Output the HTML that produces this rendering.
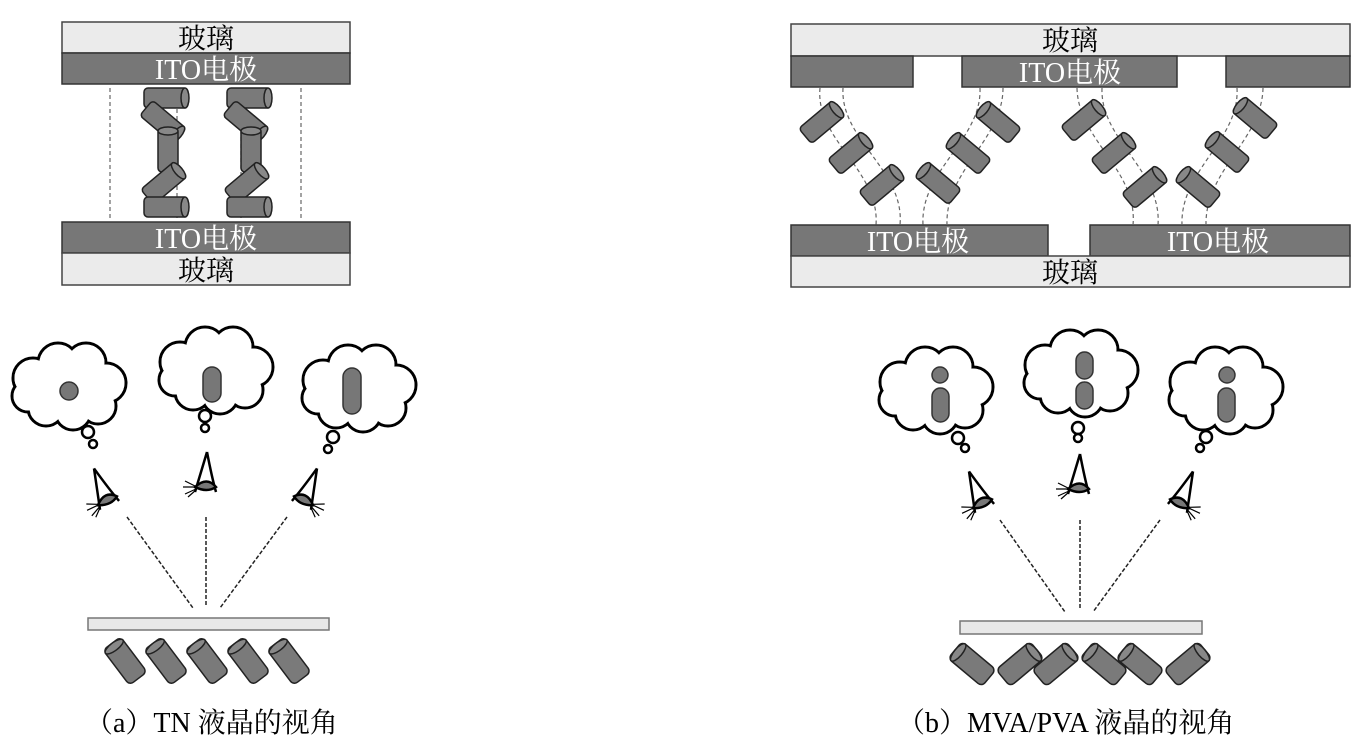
<!DOCTYPE html>
<html><head><meta charset="utf-8"><style>
body{margin:0;background:#fff;width:1359px;height:755px;overflow:hidden}
svg{display:block}
text{font-family:"Liberation Serif","Noto Serif CJK SC",serif}
</style></head><body>
<svg width="1359" height="755" viewBox="0 0 1359 755">
<defs>
<g id="cyl"><rect x="-22" y="-10" width="44" height="20" rx="4" fill="#7a7a7a" stroke="#222" stroke-width="1.5"/><ellipse cx="19" cy="0" rx="4" ry="10" fill="#888" stroke="#222" stroke-width="1.5"/></g>
<g id="cylb"><rect x="-22" y="-11" width="44" height="22" rx="5" fill="#7a7a7a" stroke="#222" stroke-width="1.5"/><ellipse cx="18" cy="0" rx="4" ry="11" fill="#888" stroke="#222" stroke-width="1.5"/></g>
<g id="cloud">
 <g fill="#fff" stroke="#000" stroke-width="3">
  <circle cx="-35" cy="-10" r="20"/><circle cx="-10" cy="-25" r="20"/><circle cx="18" cy="-25" r="20"/><circle cx="38" cy="-5" r="20"/><circle cx="30" cy="18" r="18"/><circle cx="5" cy="24" r="18"/><circle cx="-22" cy="20" r="18"/><circle cx="-40" cy="8" r="16"/>
 </g>
 <g fill="#fff">
  <circle cx="-35" cy="-10" r="18.5"/><circle cx="-10" cy="-25" r="18.5"/><circle cx="18" cy="-25" r="18.5"/><circle cx="38" cy="-5" r="18.5"/><circle cx="30" cy="18" r="16.5"/><circle cx="5" cy="24" r="16.5"/><circle cx="-22" cy="20" r="16.5"/><circle cx="-40" cy="8" r="14.5"/><ellipse cx="0" cy="0" rx="40" ry="28"/>
 </g>
</g>
<g id="eye" fill="none" stroke="#000" stroke-width="2.5">
 <path d="M0,-26 L-12,14 M0,-26 Q5,0 9,14"/>
 <path d="M-12,9 Q0,-2 9,9 Q0,15 -12,9Z" fill="#777"/>
 <path d="M-12,8 L-22,3 M-12,9 L-24,9 M-11,11 L-22,16 M-11,12 L-19,19" stroke-width="1.2"/>
</g>
</defs>

<!-- LEFT TOP -->
<rect x="62" y="22" width="288" height="31" fill="#ebebeb" stroke="#444" stroke-width="1.5"/>
<rect x="62" y="53" width="288" height="31" fill="#777" stroke="#333" stroke-width="1.5"/>
<rect x="62" y="222" width="288" height="31" fill="#777" stroke="#333" stroke-width="1.5"/>
<rect x="62" y="253" width="288" height="32" fill="#ebebeb" stroke="#444" stroke-width="1.5"/>
<text x="206" y="48" font-size="28" text-anchor="middle">玻璃</text>
<text x="206" y="79" font-size="28" text-anchor="middle" fill="#fff">ITO电极</text>
<text x="206" y="248" font-size="28" text-anchor="middle" fill="#fff">ITO电极</text>
<text x="206" y="280" font-size="28" text-anchor="middle">玻璃</text>
<g stroke="#666" stroke-width="1.2" stroke-dasharray="4,3">
<line x1="110" y1="88" x2="110" y2="218"/><line x1="177" y1="88" x2="177" y2="218"/><line x1="241" y1="88" x2="241" y2="218"/><line x1="301" y1="88" x2="301" y2="218"/>
</g>
<use href="#cyl" transform="translate(166,98)"/>
<use href="#cyl" transform="translate(163,122) rotate(40)"/>
<use href="#cyl" transform="translate(168,150) rotate(-90)"/>
<use href="#cyl" transform="translate(164,183) rotate(-40)"/>
<use href="#cyl" transform="translate(166,207)"/>
<use href="#cyl" transform="translate(249,98)"/>
<use href="#cyl" transform="translate(246,122) rotate(40)"/>
<use href="#cyl" transform="translate(251,150) rotate(-90)"/>
<use href="#cyl" transform="translate(247,183) rotate(-40)"/>
<use href="#cyl" transform="translate(249,207)"/>

<!-- RIGHT TOP -->
<rect x="791" y="24" width="559" height="32" fill="#ebebeb" stroke="#444" stroke-width="1.5"/>
<rect x="791" y="56" width="122" height="31" fill="#777" stroke="#333" stroke-width="1.5"/>
<rect x="962" y="56" width="215" height="31" fill="#777" stroke="#333" stroke-width="1.5"/>
<rect x="1226" y="56" width="124" height="31" fill="#777" stroke="#333" stroke-width="1.5"/>
<rect x="791" y="225" width="257" height="31" fill="#777" stroke="#333" stroke-width="1.5"/>
<rect x="1090" y="225" width="260" height="31" fill="#777" stroke="#333" stroke-width="1.5"/>
<rect x="791" y="256" width="559" height="31" fill="#ebebeb" stroke="#444" stroke-width="1.5"/>
<text x="1070" y="50" font-size="28" text-anchor="middle">玻璃</text>
<text x="1070" y="82" font-size="28" text-anchor="middle" fill="#fff">ITO电极</text>
<text x="918" y="251" font-size="28" text-anchor="middle" fill="#fff">ITO电极</text>
<text x="1218" y="251" font-size="28" text-anchor="middle" fill="#fff">ITO电极</text>
<text x="1070" y="282" font-size="28" text-anchor="middle">玻璃</text>
<g fill="none" stroke="#666" stroke-width="1.2" stroke-dasharray="4,3">
<path d="M820,88 C815,140 880,170 876,225"/><path d="M843,88 C840,140 905,170 900,225"/>
<path d="M980,88 C982,140 920,170 923,225"/><path d="M1003,88 C1003,140 945,170 947,225"/>
<path d="M1077,88 C1078,140 1138,170 1133,225"/><path d="M1102,88 C1100,140 1162,170 1158,225"/>
<path d="M1237,88 C1240,140 1180,170 1182,225"/><path d="M1263,88 C1262,140 1205,170 1206,225"/>
</g>
<use href="#cyl" transform="translate(822,122) rotate(-40)"/>
<use href="#cyl" transform="translate(851,153) rotate(-40)"/>
<use href="#cyl" transform="translate(882,185) rotate(-40)"/>
<use href="#cyl" transform="translate(998,122) rotate(-140) scale(1,-1)"/>
<use href="#cyl" transform="translate(968,153) rotate(-140) scale(1,-1)"/>
<use href="#cyl" transform="translate(938,183) rotate(-140) scale(1,-1)"/>
<use href="#cyl" transform="translate(1084,120) rotate(-40)"/>
<use href="#cyl" transform="translate(1114,153) rotate(-40)"/>
<use href="#cyl" transform="translate(1145,187) rotate(-40)"/>
<use href="#cyl" transform="translate(1255,118) rotate(-140) scale(1,-1)"/>
<use href="#cyl" transform="translate(1227,152) rotate(-140) scale(1,-1)"/>
<use href="#cyl" transform="translate(1198,187) rotate(-140) scale(1,-1)"/>

<!-- LEFT BOTTOM -->
<use href="#cloud" transform="translate(68,388)"/>
<use href="#cloud" transform="translate(215,372)"/>
<use href="#cloud" transform="translate(358,390)"/>
<g fill="#fff" stroke="#000" stroke-width="2.5">
<circle cx="88" cy="432" r="6"/><circle cx="93" cy="444" r="4"/>
<circle cx="205" cy="416" r="6"/><circle cx="205" cy="428" r="4"/>
<circle cx="333" cy="437" r="6"/><circle cx="328" cy="449" r="4"/>
</g>
<circle cx="69" cy="391" r="9" fill="#777" stroke="#333" stroke-width="1.5"/>
<rect x="203" y="367" width="18" height="35" rx="9" fill="#777" stroke="#333" stroke-width="1.5"/>
<rect x="343" y="368" width="18" height="46" rx="9" fill="#777" stroke="#333" stroke-width="1.5"/>
<use href="#eye" transform="translate(105,492) rotate(-25)"/>
<use href="#eye" transform="translate(207,478)"/>
<use href="#eye" transform="translate(306,492) rotate(25) scale(-1,1)"/>
<g stroke="#222" stroke-width="1.5" stroke-dasharray="4,2">
<line x1="127" y1="517" x2="193" y2="608"/><line x1="206" y1="517" x2="206" y2="606"/><line x1="287" y1="517" x2="220" y2="608"/>
</g>
<rect x="88" y="618" width="241" height="12" fill="#e8e8e8" stroke="#777" stroke-width="1.5"/>
<use href="#cylb" transform="translate(125,661) rotate(-127)"/>
<use href="#cylb" transform="translate(166,661) rotate(-127)"/>
<use href="#cylb" transform="translate(207,661) rotate(-127)"/>
<use href="#cylb" transform="translate(248,661) rotate(-127)"/>
<use href="#cylb" transform="translate(289,661) rotate(-127)"/>

<!-- RIGHT BOTTOM -->
<use href="#cloud" transform="translate(935,392)"/>
<use href="#cloud" transform="translate(1080,375)"/>
<use href="#cloud" transform="translate(1225,392)"/>
<g fill="#fff" stroke="#000" stroke-width="2.5">
<circle cx="958" cy="438" r="6"/><circle cx="965" cy="448" r="4"/>
<circle cx="1078" cy="428" r="6"/><circle cx="1078" cy="438" r="4"/>
<circle cx="1206" cy="437" r="6"/><circle cx="1200" cy="448" r="4"/>
</g>
<circle cx="940" cy="375" r="8" fill="#777" stroke="#333" stroke-width="1.5"/>
<rect x="932" y="388" width="17" height="34" rx="8.5" fill="#777" stroke="#333" stroke-width="1.5"/>
<rect x="1076" y="352" width="17" height="27" rx="8.5" fill="#777" stroke="#333" stroke-width="1.5"/>
<rect x="1076" y="382" width="17" height="27" rx="8.5" fill="#777" stroke="#333" stroke-width="1.5"/>
<circle cx="1227" cy="375" r="8" fill="#777" stroke="#333" stroke-width="1.5"/>
<rect x="1218" y="388" width="17" height="34" rx="8.5" fill="#777" stroke="#333" stroke-width="1.5"/>
<use href="#eye" transform="translate(980,495) rotate(-25)"/>
<use href="#eye" transform="translate(1080,480)"/>
<use href="#eye" transform="translate(1182,495) rotate(25) scale(-1,1)"/>
<g stroke="#222" stroke-width="1.5" stroke-dasharray="4,2">
<line x1="1000" y1="520" x2="1065" y2="612"/><line x1="1080" y1="520" x2="1080" y2="610"/><line x1="1160" y1="520" x2="1093" y2="612"/>
</g>
<rect x="960" y="621" width="242" height="13" fill="#e8e8e8" stroke="#777" stroke-width="1.5"/>
<use href="#cylb" transform="translate(972,664) rotate(-140)"/>
<use href="#cylb" transform="translate(1020,664) rotate(-40)"/>
<use href="#cylb" transform="translate(1056,664) rotate(-40)"/>
<use href="#cylb" transform="translate(1104,664) rotate(-140)"/>
<use href="#cylb" transform="translate(1140,664) rotate(-140)"/>
<use href="#cylb" transform="translate(1188,664) rotate(-40)"/>

<text x="85" y="732" font-size="28">（a）TN 液晶的视角</text>
<text x="897" y="732" font-size="28">（b）MVA/PVA 液晶的视角</text>
</svg>
</body></html>
